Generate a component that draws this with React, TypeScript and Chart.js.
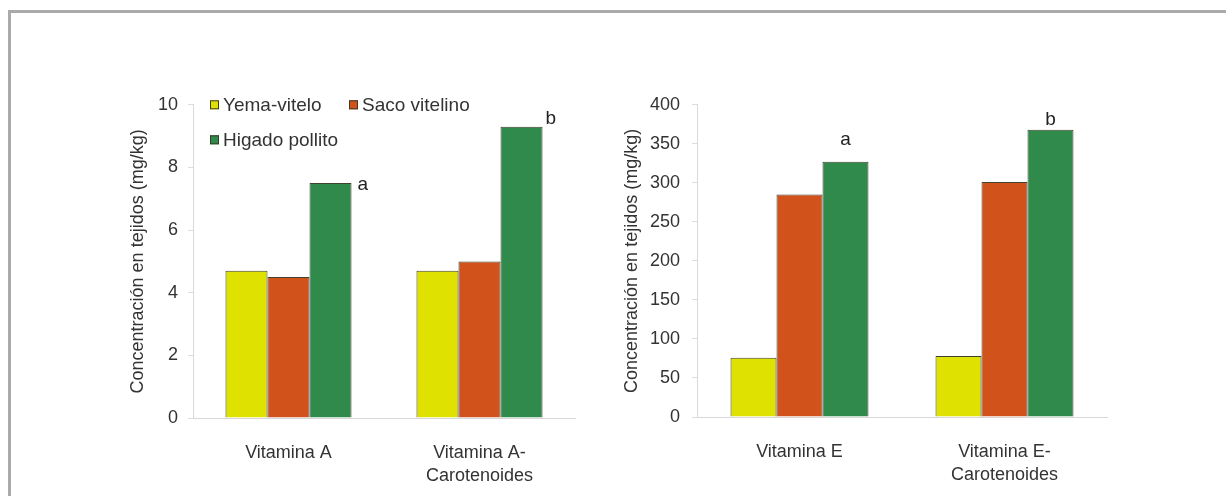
import React, { useEffect, useRef } from "react";
import { Chart, registerables } from "chart.js";
Chart.register(...registerables);

const seriesNames = ["Yema-vitelo", "Saco vitelino", "Higado pollito"];
const yTitle = "Concentración en tejidos (mg/kg)";

const leftCategories = [["Vitamina A"], ["Vitamina A-", "Carotenoides"]];
const leftYema = [4.7, 4.7];
const leftSaco = [4.5, 5.0];
const leftHigado = [7.5, 9.3];
const leftTicks = [0, 2, 4, 6, 8, 10];
const leftMarks = ["a", "b"];

const rightCategories = [["Vitamina E"], ["Vitamina E-", "Carotenoides"]];
const rightYema = [76, 78];
const rightSaco = [285, 301];
const rightHigado = [327, 368];
const rightTicks = [0, 50, 100, 150, 200, 250, 300, 350, 400];
const rightMarks = ["a", "b"];

const COLORS = ["#dfe200", "#d2521b", "#2f8a4c"];
const BORDER = "rgba(55,55,35,0.95)";
const FONT = "'Liberation Sans', Arial, sans-serif";
const TEXT = "#333333";

const insideLegend = {
  id: "insideLegend",
  afterDraw(chart: any, _args: any, opts: any) {
    if (!opts || !opts.items || !opts.items.length) return;
    const { ctx, chartArea } = chart;
    ctx.save();
    ctx.font = `19px ${FONT}`;
    ctx.textBaseline = "middle";
    ctx.textAlign = "left";
    opts.items.forEach((it: any, i: number) => {
      const ds = chart.data.datasets[i];
      const x = chartArea.left + it.dx;
      const y = chartArea.top + it.dy;
      ctx.fillStyle = ds.backgroundColor;
      ctx.fillRect(x, y - 4.5, 9, 9);
      ctx.strokeStyle = BORDER;
      ctx.lineWidth = 1;
      ctx.strokeRect(x + 0.5, y - 4, 8, 8);
      ctx.fillStyle = TEXT;
      ctx.fillText(ds.label, x + 13, y + 1);
    });
    ctx.restore();
  },
};

const barMarks = {
  id: "barMarks",
  afterDatasetsDraw(chart: any, _args: any, opts: any) {
    if (!opts || !opts.marks) return;
    const { ctx } = chart;
    const meta = chart.getDatasetMeta(opts.dataset);
    ctx.save();
    ctx.font = `19px ${FONT}`;
    ctx.fillStyle = "#222";
    ctx.textBaseline = "alphabetic";
    opts.marks.forEach((txt: string, i: number) => {
      const el = meta.data[i];
      const p = opts.place[i];
      let x = el.x;
      if (p.anchor === "right") {
        ctx.textAlign = "left";
        x = el.x + el.width / 2 + p.dx;
      } else {
        ctx.textAlign = "center";
        x = el.x + p.dx;
      }
      ctx.fillText(txt, x, el.y + p.dy);
    });
    ctx.restore();
  },
};

function makeConfig(p: any) {
  return {
    type: "bar",
    data: {
      labels: p.categories,
      datasets: [
        { label: seriesNames[0], data: p.yema, backgroundColor: COLORS[0], borderColor: BORDER, borderWidth: 1 },
        { label: seriesNames[1], data: p.saco, backgroundColor: COLORS[1], borderColor: BORDER, borderWidth: 1 },
        { label: seriesNames[2], data: p.higado, backgroundColor: COLORS[2], borderColor: BORDER, borderWidth: 1 },
      ],
    },
    plugins: [insideLegend, barMarks],
    options: {
      responsive: false,
      maintainAspectRatio: false,
      animation: false,
      events: [],
      layout: { padding: { left: 0, top: p.padTop, right: p.padRight, bottom: 0 } },
      datasets: { bar: { barPercentage: 1, categoryPercentage: p.catPct } },
      plugins: {
        legend: { display: false },
        tooltip: { enabled: false },
        insideLegend: { items: p.legendItems },
        barMarks: { dataset: 2, marks: p.marks, place: p.markPlace },
      },
      scales: {
        x: {
          grid: { display: false, drawTicks: false },
          border: { display: true, color: "#d8d8d8", width: 1 },
          ticks: {
            color: TEXT,
            padding: 23,
            maxRotation: 0,
            autoSkip: false,
            font: { family: FONT, size: 18, lineHeight: 1.3 },
          },
          afterFit: (s: any) => { s.height = p.xHeight; },
        },
        y: {
          min: 0,
          max: p.ticks[p.ticks.length - 1],
          afterBuildTicks: (s: any) => { s.ticks = p.ticks.map((v: number) => ({ value: v })); },
          grid: { drawOnChartArea: false, drawTicks: true, tickLength: 5, color: "#dddddd" },
          border: { display: true, color: "#d8d8d8", width: 1 },
          ticks: {
            color: TEXT,
            padding: p.tickPad,
            font: { family: FONT, size: 18 },
          },
          title: {
            display: true,
            text: yTitle,
            color: TEXT,
            font: { family: FONT, size: 18 },
            padding: { top: p.titlePad, bottom: 0 },
          },
          afterFit: (s: any) => { s.width = p.yWidth; },
        },
      },
    },
  };
}

function BarChart(props: any) {
  const ref = useRef<HTMLCanvasElement>(null);
  useEffect(() => {
    if (!ref.current) return;
    const chart = new Chart(ref.current, makeConfig(props.cfg) as any);
    return () => chart.destroy();
  }, []);
  return (
    <canvas
      ref={ref}
      width={props.w}
      height={props.h}
      style={{ position: "absolute", left: props.x, top: props.y, width: props.w, height: props.h }}
    />
  );
}

const leftCfg = {
  categories: leftCategories,
  yema: leftYema,
  saco: leftSaco,
  higado: leftHigado,
  ticks: leftTicks,
  marks: leftMarks,
  markPlace: [
    { anchor: "right", dx: 6, dy: 7 },
    { anchor: "right", dx: 3, dy: -3 },
  ],
  legendItems: [
    { dx: 17, dy: 0 },
    { dx: 156, dy: 0 },
    { dx: 17, dy: 35 },
  ],
  padTop: 8,
  padRight: 15,
  catPct: 0.66,
  xHeight: 78,
  yWidth: 93,
  tickPad: 10,
  titlePad: 27,
};

const rightCfg = {
  categories: rightCategories,
  yema: rightYema,
  saco: rightSaco,
  higado: rightHigado,
  ticks: rightTicks,
  marks: rightMarks,
  markPlace: [
    { anchor: "center", dx: 0, dy: -17 },
    { anchor: "center", dx: 0, dy: -5 },
  ],
  legendItems: [],
  padTop: 6,
  padRight: 13,
  catPct: 0.673,
  xHeight: 79,
  yWidth: 97,
  tickPad: 12,
  titlePad: 21,
};

export default function App() {
  return (
    <div style={{ position: "fixed", left: 0, top: 0, width: 1226, height: 496, background: "#ffffff", overflow: "hidden" }}>
      <div
        style={{
          position: "absolute",
          left: 8,
          top: 10,
          width: 1218,
          height: 486,
          boxSizing: "border-box",
          borderTop: "3px solid #aaaaaa",
          borderLeft: "3px solid #aaaaaa",
        }}
      />
      <BarChart x={100} y={84} w={490} h={412} cfg={leftCfg} />
      <BarChart x={600} y={82} w={520} h={414} cfg={rightCfg} />
    </div>
  );
}
